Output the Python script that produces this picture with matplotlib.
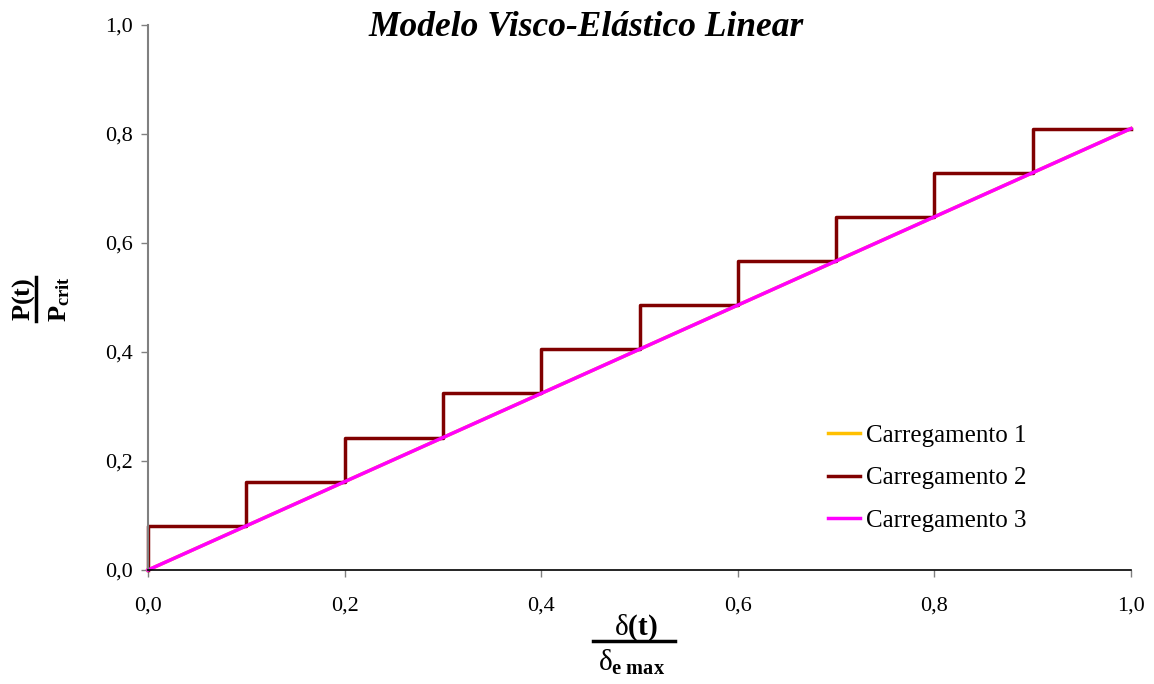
import matplotlib
matplotlib.use("Agg")
import matplotlib.pyplot as plt
from matplotlib.lines import Line2D
import numpy as np

# Data
x_points = [0.0, 0.1, 0.2, 0.3, 0.4, 0.5, 0.6, 0.7, 0.8, 0.9, 1.0]
load_levels = [0.081, 0.162, 0.243, 0.324, 0.405, 0.486, 0.567, 0.648, 0.729, 0.81, 0.81]
line_x = [0.0, 1.0]
line_y = [0.0, 0.81]
series_names = ["Carregamento 1", "Carregamento 2", "Carregamento 3"]
ticks = [0.0, 0.2, 0.4, 0.6, 0.8, 1.0]
tick_labels = ["0,0", "0,2", "0,4", "0,6", "0,8", "1,0"]

plt.rcParams['font.family'] = ['Liberation Serif', 'DejaVu Serif']
plt.rcParams['mathtext.fontset'] = 'custom'
plt.rcParams['mathtext.rm'] = 'Liberation Serif'
plt.rcParams['mathtext.it'] = 'Liberation Serif:italic'
plt.rcParams['mathtext.bf'] = 'Liberation Serif:bold'

W, H = 1154, 684
fig = plt.figure(figsize=(W / 100, H / 100), dpi=100)
ax = fig.add_axes([148 / W, 1 - 570 / H, (1131 - 148) / W, (570 - 25) / H])

# Carregamento 1 (hidden underneath)
ax.plot(line_x, line_y, color='#FFC000', lw=2.5, label=series_names[0], clip_on=False)
# Carregamento 2 staircase
sx = [0.0] + x_points
sy = [0.0] + load_levels
ax.step(sx, sy, where='post', color='#800000', lw=2.5, label=series_names[1], clip_on=False)
# Carregamento 3
ax.plot(line_x, line_y, color='#FF00FF', lw=2.5, label=series_names[2], clip_on=False)

ax.set_xlim(0, 1)
ax.set_ylim(0, 1)
ax.set_xticks(ticks)
ax.set_xticklabels(tick_labels)
ax.set_yticks(ticks)
ax.set_yticklabels(tick_labels)
ax.tick_params(axis='both', labelsize=16, length=5, color='#808080', direction='out', width=1)
ax.tick_params(axis='x', pad=14)
ax.tick_params(axis='y', pad=6)
for s in ['top', 'right']:
    ax.spines[s].set_visible(False)
ax.spines['left'].set_color('#808080')
ax.spines['left'].set_linewidth(1.5)
ax.spines['bottom'].set_color('black')
ax.spines['bottom'].set_linewidth(1.2)

leg = ax.legend(loc='center left', bbox_to_anchor=(828 / W, 1 - 478 / H), bbox_transform=fig.transFigure,
                frameon=False, fontsize=18, handlelength=1.28, handletextpad=0.25, labelspacing=0.80,
                borderpad=0, borderaxespad=0)

# Title
fig.text(586 / W, 1 - 27 / H, "Modelo Visco-Elástico Linear", ha='center', va='center',
         fontsize=25.5, fontweight='bold', fontstyle='italic')

# X label
fig.text(636 / W, 1 - 628 / H, r'δ$\mathbf{(t)}$', ha='center', va='center', fontsize=21)
fig.add_artist(Line2D([593 / W, 675 / W], [1 - 641 / H, 1 - 641 / H], color='black', lw=2.5,
                      transform=fig.transFigure))
fig.text(632 / W, 1 - 662 / H, r'δ$_{\mathbf{e\ max}}$', ha='center', va='center', fontsize=21)

# Y label
fig.text(24 / W, 1 - 299 / H, r'$\mathbf{P(t)}$', ha='center', va='center', fontsize=19, rotation=90)
fig.add_artist(Line2D([36 / W, 36 / W], [1 - 277 / H, 1 - 321 / H], color='black', lw=2.5,
                      transform=fig.transFigure))
fig.text(60 / W, 1 - 299 / H, r'$\mathbf{P_{crit}}$', ha='center', va='center', fontsize=19, rotation=90)

fig.savefig("out.png", dpi=100)
